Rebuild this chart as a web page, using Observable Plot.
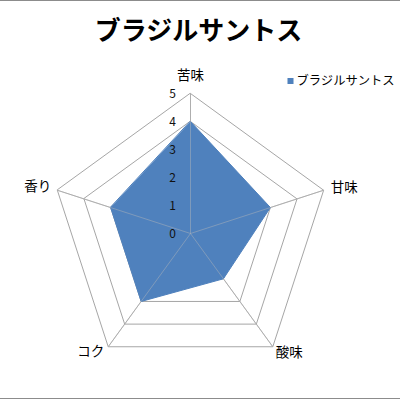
<!DOCTYPE html>
<html><head><meta charset="utf-8">
<script src="https://cdn.jsdelivr.net/npm/d3@7"></script>
<script src="https://cdn.jsdelivr.net/npm/@observablehq/plot@0.6"></script>
<style>
body{margin:0;background:#fff;}
#wrap{position:relative;width:400px;height:400px;overflow:hidden;background:#fff;}
#wrap svg{display:block;}
.hl{position:absolute;left:0;width:400px;height:1px;background:#8c8c8c;}
</style>
</head><body>
<div id="wrap"></div>
<script>
const title = "ブラジルサントス";
const seriesName = "ブラジルサントス";
const axes = ["苦味", "甘味", "酸味", "コク", "香り"];
const values = [4, 3, 2, 3, 3];
const ticks = [0, 1, 2, 3, 4, 5];
const maxValue = 5;

const font = "'Noto Sans CJK JP', 'Noto Sans', sans-serif";
const blue = "#4f81bd";
const grid = "#a6a6a6";

const angle = i => Math.PI / 2 - i * 2 * Math.PI / axes.length;
const px = (i, v) => v * Math.cos(angle(i));
const py = (i, v) => v * Math.sin(angle(i));

const ringData = [];
for (const lv of ticks.filter(t => t > 0)) axes.forEach((a, i) => ringData.push({lv, x: px(i, lv), y: py(i, lv)}));
const spokes = axes.map((a, i) => ({x1: 0, y1: 0, x2: px(i, maxValue), y2: py(i, maxValue)}));
const poly = axes.map((a, i) => ({axis: a, x: px(i, values[i]), y: py(i, values[i])}));
const labels = axes.map((a, i) => ({axis: a, i, x: px(i, maxValue), y: py(i, maxValue)}));
const tickData = ticks.map(t => ({t, x: 0, y: t}));

const unit = 28; // pixels per value unit
const cx = 190, cy = 233;

const chart = Plot.plot({
  width: 400, height: 400,
  margin: 0,
  x: {domain: [-cx / unit, (400 - cx) / unit], axis: null},
  y: {domain: [-(400 - cy) / unit, cy / unit], axis: null},
  style: {fontFamily: font, background: "white"},
  marks: [
    Plot.line(ringData, {x: "x", y: "y", z: "lv", curve: "linear-closed", stroke: grid, strokeWidth: 1}),
    Plot.link(spokes, {x1: "x1", y1: "y1", x2: "x2", y2: "y2", stroke: grid, strokeWidth: 1}),
    Plot.line(poly, {x: "x", y: "y", curve: "linear-closed", fill: blue, stroke: blue, strokeWidth: 1}),
    Plot.link(spokes, {x1: "x1", y1: "y1", x2: "x2", y2: "y2", stroke: "#b8b8b8", strokeOpacity: 0.45, strokeWidth: 1}),
    Plot.text(tickData, {x: "x", y: "y", text: d => String(d.t), dx: -18, dy: 0.5, fontSize: 12, fill: "#111", textAnchor: "middle"}),
    Plot.text(labels.filter(d => d.i === 0), {x: "x", y: "y", text: "axis", dy: -18, fontSize: 13.5, fill: "#000", textAnchor: "middle"}),
    Plot.text(labels.filter(d => d.i === 1), {x: "x", y: "y", text: "axis", dx: 7, dy: -3, fontSize: 13.5, fill: "#000", textAnchor: "start"}),
    Plot.text(labels.filter(d => d.i === 2), {x: "x", y: "y", text: "axis", dx: 3, dy: 6, fontSize: 13.5, fill: "#000", textAnchor: "start"}),
    Plot.text(labels.filter(d => d.i === 3), {x: "x", y: "y", text: "axis", dx: -4, dy: 5, fontSize: 13.5, fill: "#000", textAnchor: "end"}),
    Plot.text(labels.filter(d => d.i === 4), {x: "x", y: "y", text: "axis", dx: -6, dy: -4, fontSize: 13.5, fill: "#000", textAnchor: "end"}),
    Plot.text([title], {frameAnchor: "top", text: d => d, dx: -2, dy: 31, lineAnchor: "middle", fontSize: 26, fontWeight: "bold", fill: "#000"}),
    Plot.dot([seriesName], {frameAnchor: "top-left", dx: 290, dy: 80.5, symbol: "square", r: 3.4, fill: blue}),
    Plot.text([seriesName], {frameAnchor: "top-left", text: d => d, dx: 296, dy: 80.5, lineAnchor: "middle", textAnchor: "start", fontSize: 12.3, fill: "#000"})
  ]
});
const wrap = document.getElementById("wrap");
wrap.appendChild(chart);
const t = document.createElement("div"); t.className = "hl"; t.style.top = "0px"; wrap.appendChild(t);
const b = document.createElement("div"); b.className = "hl"; b.style.top = "398px"; wrap.appendChild(b);
</script>
</body></html>
